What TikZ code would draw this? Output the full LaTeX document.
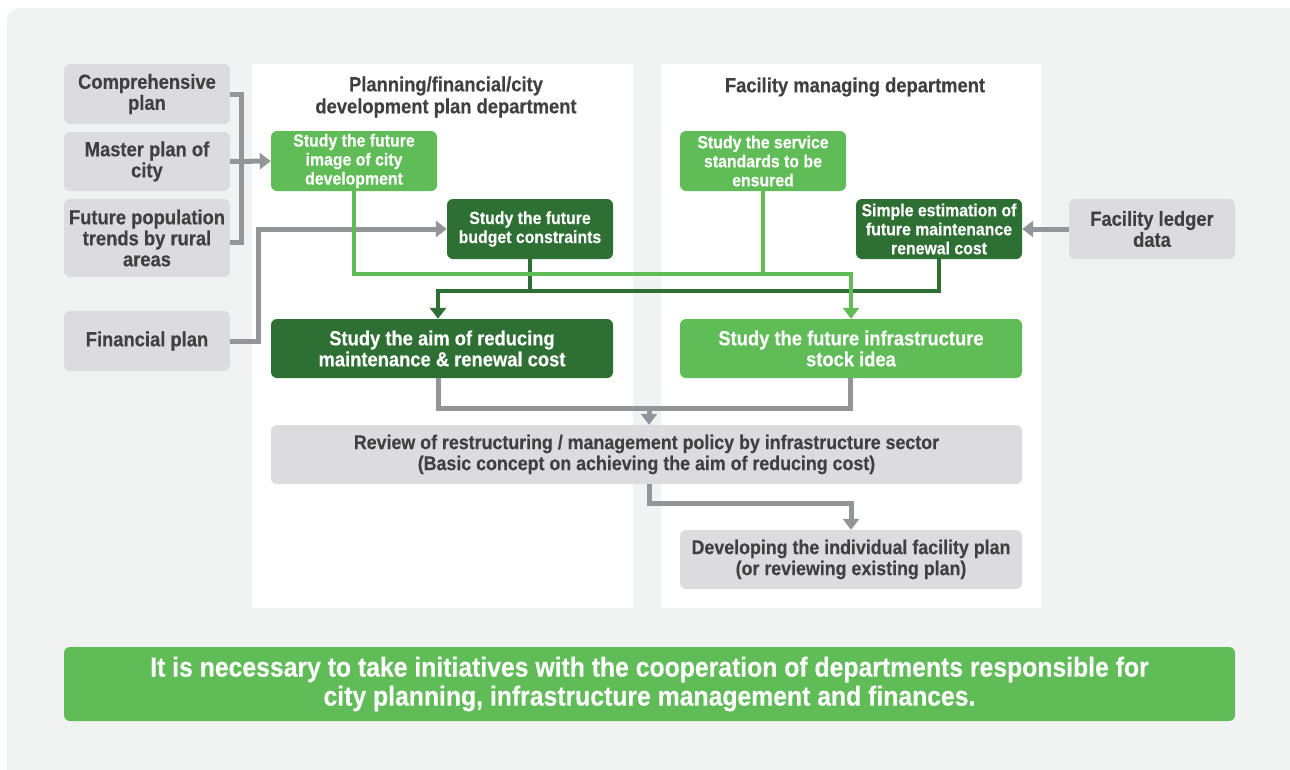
\documentclass[tikz,border=0pt]{standalone}
\usepackage{fontspec}
\setmainfont{Liberation Sans}[FakeStretch=0.9, BoldFeatures={FakeBold=0.3}]
\usetikzlibrary{arrows.meta,calc}
\definecolor{bgc}{HTML}{F1F2F2}
\definecolor{boxgray}{HTML}{DCDCDE}
\definecolor{txtgray}{HTML}{404041}
\definecolor{lgreen}{HTML}{5FBC57}
\definecolor{dgreen}{HTML}{2E7033}
\definecolor{lngray}{HTML}{939598}
\tikzset{
  basebox/.style={rounded corners=6pt, align=center, inner sep=0pt, font=\bfseries},
  graybox/.style={basebox, fill=boxgray, text=txtgray},
  lgbox/.style={basebox, fill=lgreen, text=white},
  dgbox/.style={basebox, fill=dgreen, text=white},
  smallw/.style={minimum width=166pt, minimum height=60pt},
  widew/.style={minimum width=342pt, minimum height=59pt},
  fbig/.style={font=\bfseries\fontsize{20.4}{21}\selectfont},
  fsmall/.style={font=\bfseries\fontsize{17.6}{19}\selectfont},
  tip/.style={-{Triangle[width=16pt,length=11pt]}},
  gline/.style={draw=lngray, line width=5pt},
  lgline/.style={draw=lgreen, line width=4.5pt},
  dgline/.style={draw=dgreen, line width=4.5pt},
  heading/.style={align=center, text=txtgray, font=\bfseries\fontsize{20.4}{22}\selectfont},
}
\begin{document}
\begin{tikzpicture}[x=1pt,y=-1pt]
\useasboundingbox (0,0) rectangle (1290,769);
\fill[bgc, rounded corners=12pt] (7,8) rectangle (1302,781);
\fill[white] (252,64) rectangle (633,608);
\fill[white] (661,64) rectangle (1041,608);

\node[heading] (h1) at (446,97) {Planning/financial/city\\development plan department};
\node[heading] (h2) at (855,87) {Facility managing department};

\node[graybox,smallw,fbig] (comp) at (147,94) {Comprehensive\\plan};
\node[graybox,smallw,fbig,minimum height=59pt] (master) at (147,161.5) {Master plan of\\city};
\node[graybox,smallw,fbig,minimum height=78pt] (future) at (147,238) {Future population\\trends by rural\\areas};
\node[graybox,smallw,fbig] (fin) at (147,341) {Financial plan};
\node[graybox,smallw,fbig] (ledger) at (1152,229) {Facility ledger\\data};

\node[lgbox,smallw,fsmall] (img) at (354,161) {Study the future\\image of city\\development};
\node[dgbox,smallw,fsmall] (budget) at (530,229) {Study the future\\budget constraints};
\node[lgbox,smallw,fsmall] (serv) at (763,161) {Study the service\\standards to be\\ensured};
\node[dgbox,smallw,fsmall] (simple) at (939,229) {Simple estimation of\\future maintenance\\renewal cost};

\node[dgbox,widew,fbig] (aim) at (442,348.5) {Study the aim of reducing\\maintenance \& renewal cost};
\node[lgbox,widew,fbig] (stock) at (851,348.5) {Study the future infrastructure\\stock idea};

\node[graybox,minimum width=751pt,minimum height=59pt,font=\bfseries\fontsize{19.8}{21}\selectfont] (review) at (646.5,454.5) {Review of restructuring / management policy by infrastructure sector\\(Basic concept on achieving the aim of reducing cost)};
\node[graybox,widew,font=\bfseries\fontsize{19.8}{21}\selectfont] (dev) at (851,559.5) {Developing the individual facility plan\\(or reviewing existing plan)};

\node[lgbox,minimum width=1171pt,minimum height=74pt,font=\bfseries\fontsize{27.5}{29}\selectfont] (concl) at (649.5,684) {It is necessary to take initiatives with the cooperation of departments responsible for\\city planning, infrastructure management and finances.};

% gray connectors on the left
\coordinate (bj) at (241,161);
\draw[gline] (comp.east) -| (bj);
\draw[gline] ($(future.east)+(0,4)$) -| (bj);
\draw[gline,tip] (master.east) -- (img.west);
\coordinate (fk) at (258,229);
\draw[gline,tip] (fin.east) -| (fk) -- (budget.west);
\draw[gline,tip] (ledger.west) -- (simple.east);

% dark green connectors
\coordinate (dj) at (438,291);
\draw[dgline] (budget.south) -- (budget.south |- dj);
\draw[dgline,tip] (simple.south) |- (dj) -- (dj |- aim.north);

% light green connectors
\coordinate (lj) at (851,274);
\draw[lgline] (serv.south) -- (serv.south |- lj);
\draw[lgline,tip] (img.south) |- (lj) -- (stock.north);

% gray connectors at the bottom
\coordinate (ga) at (438,408);
\coordinate (gb) at (850,408);
\coordinate (gm) at (649,408);
\draw[gline] (ga |- aim.south) -- (ga) -- (gb) -- (gb |- stock.south);
\draw[gline,tip] (gm) -- (gm |- review.north);
\coordinate (gr) at (649,503);
\draw[gline,tip] (gr |- review.south) -- (gr) -| (dev.north);
\end{tikzpicture}
\end{document}
